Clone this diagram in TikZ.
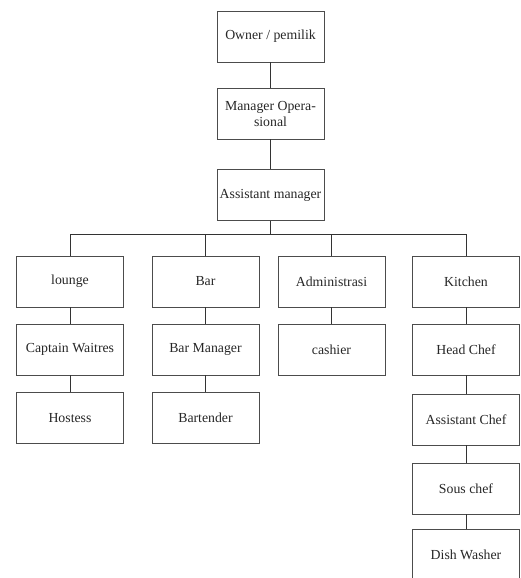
\documentclass[tikz,border=0pt]{standalone}
\usepackage{fontspec}
\setmainfont{Liberation Serif}
\begin{document}
\begin{tikzpicture}[x=1pt,y=-1pt,
  box/.style={draw=black!70,line width=0.9pt,minimum width=107pt,minimum height=51pt,inner sep=1pt,align=center,font=\fontsize{13.8}{16}\selectfont,text=black!85},
  link/.style={draw=black!80,line width=0.9pt}]
\useasboundingbox (0,0) rectangle (521,578);
\clip (0,0) rectangle (521,578);
\node[box] (own) at (270.5,36.5) {Owner / pemilik};
\node[box] (mgr) at (270.5,113.5) {Manager Opera-\\sional};
\node[box] (asm) at (270.5,195) {Assistant manager};
\coordinate (hub) at (270.5,234);
\coordinate (hl) at (70,234);
\coordinate (hb) at (205.5,234);
\coordinate (ha) at (331.5,234);
\coordinate (hk) at (466,234);
\node[box] (lou) at (70,281.5) {lounge};
\node[box] (bar) at (205.5,281.5) {Bar};
\node[box] (adm) at (331.5,281.5) {Administrasi};
\node[box] (kit) at (466,281.5) {Kitchen};
\node[box] (cap) at (70,349.5) {Captain Waitres};
\node[box] (hos) at (70,418) {Hostess};
\node[box] (bmg) at (205.5,349.5) {Bar Manager};
\node[box] (btd) at (205.5,418) {Bartender};
\node[box] (cas) at (331.5,349.5) {cashier};
\node[box] (hch) at (466,349.5) {Head Chef};
\node[box] (ach) at (466,419.5) {Assistant Chef};
\node[box] (sch) at (466,488.5) {Sous chef};
\node[box] (dsh) at (466,555) {Dish Washer};
\draw[link] (own) -- (mgr);
\draw[link] (mgr) -- (asm);
\draw[link] (asm) -- (hub);
\draw[link] (hl) -- (hk);
\draw[link] (hl) -- (lou);
\draw[link] (hb) -- (bar);
\draw[link] (ha) -- (adm);
\draw[link] (hk) -- (kit);
\draw[link] (lou) -- (cap);
\draw[link] (cap) -- (hos);
\draw[link] (bar) -- (bmg);
\draw[link] (bmg) -- (btd);
\draw[link] (adm) -- (cas);
\draw[link] (kit) -- (hch);
\draw[link] (hch) -- (ach);
\draw[link] (ach) -- (sch);
\draw[link] (sch) -- (dsh);
\end{tikzpicture}
\end{document}
